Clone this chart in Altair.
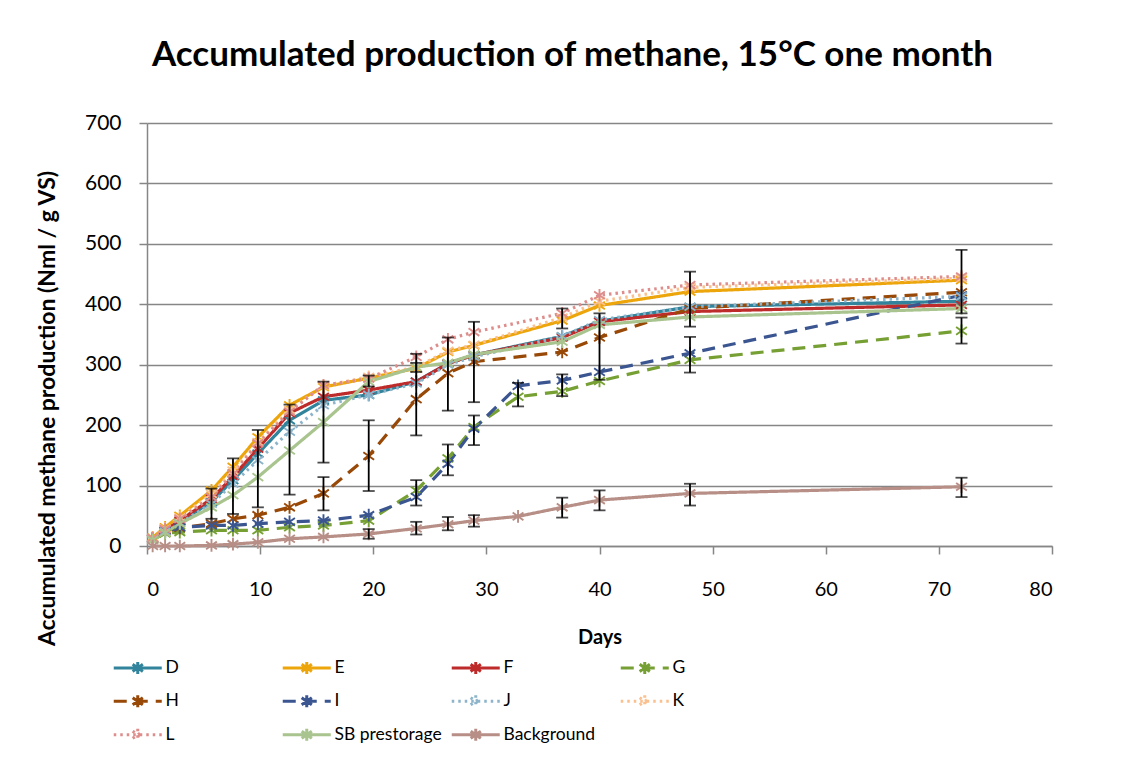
import altair as alt
import pandas as pd

FONT = "Lato"
Y_TITLE = "Accumulated methane production (Nml / g VS)"

# ---- data ----
days_main = [0.5, 1.6, 2.9, 5.7, 7.6, 9.8, 12.6, 15.6, 19.6, 23.8, 26.6, 28.9, 36.7, 40, 48, 72]
days_full = [0.5, 1.6, 2.9, 5.7, 7.6, 9.8, 12.6, 15.6, 19.6, 23.8, 26.6, 28.9, 32.8, 36.7, 40, 48, 72]

D = [12, 25, 40, 73, 109, 153, 208, 241, 250, 272, 302, 316, 347, 372, 396, 405]
E = [14, 31, 50, 92, 131, 180, 233, 263, 278, 294, 321, 332, 373, 398, 421, 440]
F = [12, 26, 42, 78, 115, 161, 220, 247, 258, 272, 302, 316, 345, 371, 388, 399]
G = [10, 21, 23, 26, 26, 26, 31, 34, 42, 92, 145, 197, 247, 256, 273, 308, 356]
H = [12, 24, 30, 37, 45, 51, 64, 87, 149, 243, 286, 305, 321, 345, 393, 420]
I = [12, 25, 31, 34, 34, 37, 40, 42, 51, 81, 136, 194, 265, 274, 288, 319, 415]
J = [12, 24, 38, 70, 103, 142, 189, 233, 250, 269, 300, 313, 347, 374, 396, 413]
K = [13, 29, 47, 86, 125, 172, 225, 265, 280, 296, 323, 333, 378, 405, 428, 443]
L = [13, 28, 45, 81, 120, 170, 222, 266, 277, 313, 342, 354, 385, 415, 432, 446]
SB = [10, 22, 37, 64, 84, 114, 158, 205, 272, 296, 303, 317, 338, 366, 379, 393]
BG = [0, 0, 0, 1, 3, 6, 12, 15, 20, 29, 36, 42, 49, 64, 76, 87, 98]

err_day = [5.7, 7.6, 9.8, 12.6, 15.6, 15.6, 19.6, 19.6, 19.6, 23.8, 23.8, 23.8, 23.8,
           26.6, 26.6, 26.6, 28.9, 28.9, 28.9, 32.8, 36.7, 36.7, 36.7, 40, 40,
           48, 48, 48, 72, 72, 72]
err_low = [45, 53, 64, 85, 138, 59, 91, 264, 12, 183, 67, 19, 288,
           224, 117, 26, 238, 167, 32, 231, 360, 248, 47, 275, 59,
           363, 287, 67, 385, 335, 81]
err_high = [95, 145, 192, 234, 272, 114, 208, 282, 28, 303, 109, 40, 318,
            345, 168, 48, 371, 216, 51, 270, 393, 284, 80, 385, 92,
            454, 346, 103, 490, 378, 113]

series_names = ["D", "E", "F", "G", "H", "I", "J", "K", "L", "SB prestorage", "Background"]
series_days = [days_main, days_main, days_main, days_full, days_main, days_full,
               days_main, days_main, days_main, days_main, days_full]
series_vals = [D, E, F, G, H, I, J, K, L, SB, BG]
colors = ["#31849B", "#EDA50C", "#BE2B2B", "#77A034", "#984807", "#3A5590",
          "#8DB4CA", "#FAC08F", "#DD8D8B", "#A9C48E", "#B88F87"]
dashes = [[1, 0], [1, 0], [1, 0], [13, 8], [13, 8], [13, 8],
          [2.5, 4], [2.5, 4], [2.5, 4], [1, 0], [1, 0]]

rows = []
for name, ds, vs in zip(series_names, series_days, series_vals):
    for d, v in zip(ds, vs):
        rows.append({"series": name, "day": d, "value": v})
df = pd.DataFrame(rows)
err_df = pd.DataFrame({"day": err_day, "low": err_low, "high": err_high})

AST = "M0,-1L0,1M-0.85,-0.6L0.85,0.6M-0.85,0.6L0.85,-0.6"
LEG = "M-4,0L4,0M0,-1L0,1M-0.85,-0.6L0.85,0.6M-0.85,0.6L0.85,-0.6"

color_scale = alt.Scale(domain=series_names, range=colors)
dash_scale = alt.Scale(domain=series_names, range=dashes)

legend = alt.Legend(
    title=None, orient="none", legendX=-18, legendY=536, columns=4,
    direction="horizontal", symbolType=LEG, symbolSize=144, symbolStrokeWidth=3,
    labelFontSize=17.5, labelFont=FONT, labelColor="black", labelOffset=19,
    columnPadding=3, rowPadding=8.5, gridAlign="all", symbolFillColor="transparent",
)

x_enc = alt.X("day:Q", scale=alt.Scale(domain=[0, 80], nice=False),
              axis=alt.Axis(values=list(range(0, 81, 10)), grid=False, title="Days",
                            titleFontSize=20, titleFont=FONT, titleFontWeight="bold",
                            titleColor="black", titlePadding=28,
                            labelFontSize=20, labelFont=FONT, labelColor="black",
                            labelPadding=25, domainColor="#868686", domainWidth=1.5,
                            tickColor="#868686", tickWidth=1.5, tickSize=8))
y_enc = alt.Y("value:Q", scale=alt.Scale(domain=[0, 700], nice=False),
              axis=alt.Axis(values=list(range(0, 701, 100)), grid=True,
                            gridColor="#868686", gridWidth=1.5,
                            title=Y_TITLE,
                            titleFontSize=23, titleFont=FONT, titleFontWeight="bold",
                            titleColor="black", titleX=-100, titleY=285,
                            titleAlign="center", titleBaseline="middle", titleAngle=270,
                            labelFontSize=21, labelFont=FONT, labelColor="black",
                            labelPadding=18, domainColor="#868686", domainWidth=1.5,
                            tickColor="#868686", tickWidth=1.5, tickSize=8))

base = alt.Chart(df)
lines = base.mark_line(strokeWidth=3.2).encode(
    x=x_enc, y=y_enc,
    color=alt.Color("series:N", scale=color_scale, legend=legend, sort=series_names),
    strokeDash=alt.StrokeDash("series:N", scale=dash_scale, legend=legend, sort=series_names),
    detail="series:N",
)
points = base.mark_point(shape=AST, filled=False, size=160, strokeWidth=1.9, opacity=1).encode(
    x="day:Q", y=alt.Y("value:Q", title=Y_TITLE),
    color=alt.Color("series:N", scale=color_scale, legend=legend, sort=series_names),
)
errs = alt.Chart(err_df).mark_errorbar(
    ticks={"size": 12, "color": "black"}, rule={"color": "black"}, thickness=1.8
).encode(
    x=alt.X("day:Q", title="Days"), y=alt.Y("low:Q", title=Y_TITLE), y2="high:Q",
)

chart = alt.layer(lines, points, errs).properties(
    width=905, height=423,
    title=alt.TitleParams("Accumulated production of methane, 15°C one month",
                          font=FONT, fontSize=35, fontWeight="bold", color="black",
                          anchor="middle", dx=-27, offset=39, frame="group"),
    autosize=alt.AutoSizeParams(type="none"),
    padding={"left": 139, "top": 115, "right": 74, "bottom": 205},
).configure_view(stroke=None)

chart.save("out.html", embed_options={"renderer": "svg", "actions": False})
